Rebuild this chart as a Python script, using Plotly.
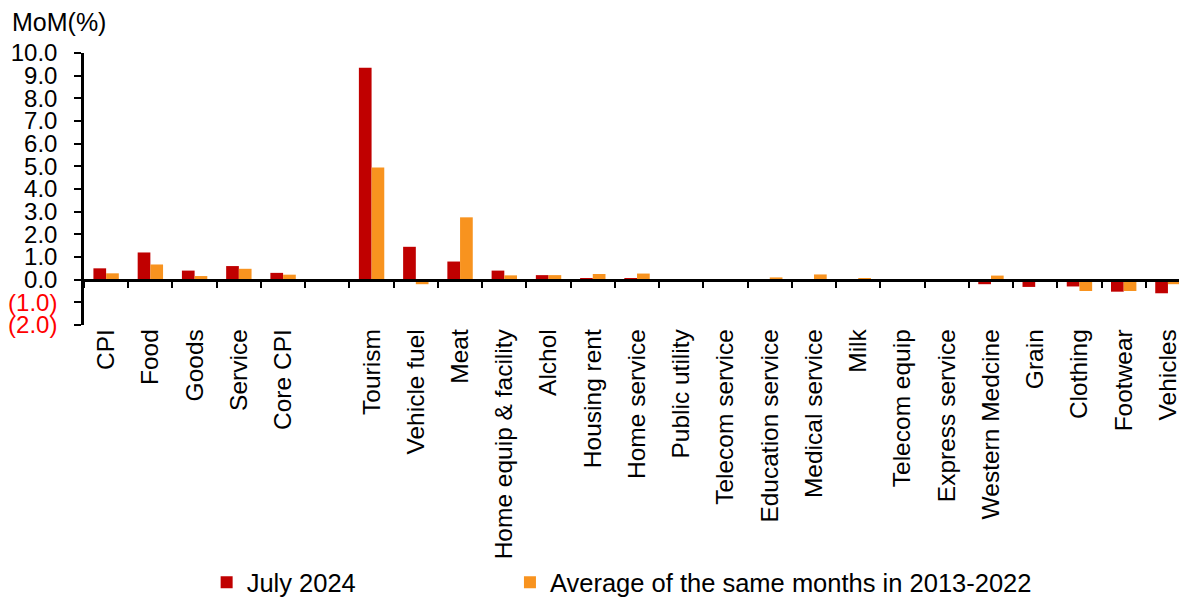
import plotly.graph_objects as go

categories = ["CPI", "Food", "Goods", "Service", "Core CPI", " ", "Tourism", "Vehicle fuel",
              "Meat", "Home equip & facility", "Alchol", "Housing rent", "Home service",
              "Public utility", "Telecom service", "Education service", "Medical service",
              "Milk", "Telecom equip", "Express service", "Western Medcine", "Grain",
              "Clothing", "Footwear", "Vehicles"]
july_2024 = [0.5, 1.2, 0.4, 0.6, 0.3, None, 9.35, 1.45,
             0.8, 0.4, 0.2, 0.07, 0.07,
             0.0, 0.0, 0.0, 0.0,
             -0.08, -0.07, -0.06, -0.2, -0.32,
             -0.3, -0.53, -0.6]
avg_2013_2022 = [0.28, 0.67, 0.16, 0.48, 0.22, None, 4.95, -0.2,
                 2.75, 0.19, 0.2, 0.25, 0.27,
                 -0.04, 0.0, 0.1, 0.23,
                 0.06, 0.0, 0.0, 0.18, 0.02,
                 -0.5, -0.5, -0.2]
y_tick_vals = [-2, -1, 0, 1, 2, 3, 4, 5, 6, 7, 8, 9, 10]
y_tick_text = ["<span style='color:#FF0000'>(2.0)</span>", "<span style='color:#FF0000'>(1.0)</span>",
               "0.0", "1.0", "2.0", "3.0", "4.0", "5.0", "6.0", "7.0", "8.0", "9.0", "10.0"]

RED = "#C00000"
ORANGE = "#F8931F"
FONT = "Liberation Sans, Arial, sans-serif"

fig = go.Figure()
fig.add_trace(go.Bar(x=categories, y=july_2024, name="July 2024", legend="legend",
                     marker=dict(color=RED, line=dict(width=0))))
fig.add_trace(go.Bar(x=categories, y=avg_2013_2022, name="Average of the same months in 2013-2022",
                     legend="legend2", marker=dict(color=ORANGE, line=dict(width=0))))

legend_common = dict(orientation="h", xanchor="left", yref="container", y=0.024, yanchor="middle",
                     font=dict(family=FONT, size=25.5, color="black"),
                     bgcolor="rgba(0,0,0,0)", itemclick=False, itemdoubleclick=False)

fig.update_layout(
    width=1179, height=597,
    margin=dict(l=84, r=0, t=53, b=272),
    paper_bgcolor="white", plot_bgcolor="white",
    font=dict(family=FONT, size=24, color="black"),
    barmode="group", bargap=0.426, bargroupgap=0,
    showlegend=True,
    legend=dict(x=0.112, **legend_common),
    legend2=dict(x=0.389, **legend_common),
    xaxis=dict(type="category", categoryorder="array", categoryarray=categories,
               range=[-0.5, 24.25], anchor="free", position=1/6,
               showline=True, linecolor="black", linewidth=2.5,
               ticks="outside", tickson="boundaries", ticklen=7, tickwidth=2, tickcolor="black",
               tickangle=-90, ticklabelstandoff=38, showgrid=False, zeroline=False,
               tickfont=dict(family=FONT, size=24.5, color="black"), automargin=False),
    yaxis=dict(range=[-2, 10], tickvals=y_tick_vals, ticktext=y_tick_text,
               showline=True, linecolor="black", linewidth=2.5,
               ticks="outside", ticklen=7, tickwidth=2, tickcolor="black",
               ticklabelstandoff=12, showgrid=False, zeroline=False,
               tickfont=dict(family=FONT, size=24, color="black"), automargin=False),
    annotations=[dict(text="MoM(%)", xref="paper", yref="paper", x=-0.0676, y=1.114,
                      xanchor="left", yanchor="middle", showarrow=False,
                      font=dict(family=FONT, size=25, color="black"))],
)

fig.write_html("out.html")
